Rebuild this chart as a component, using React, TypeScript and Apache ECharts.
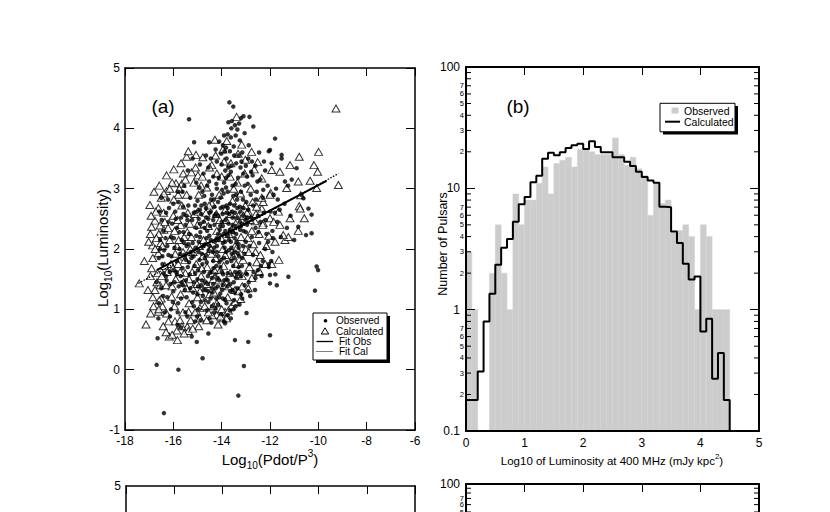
import React, { useEffect, useRef } from "react";
import * as echarts from "echarts";

const FONT = "'Liberation Sans', Arial, Helvetica, sans-serif";

// ---------- Panel (a) data: log10(Pdot/P^3) vs log10(Luminosity) ----------
const OBSERVED_POINTS: [number, number][] = [
  [-13.68, 4.43], [-13.52, 4.36], [-13.1, 4.2], [-13.2, 4.17], [-12.85, 4.19], [-13.45, 4.05], [-13.6, 4.0],
  [-13.35, 3.98], [-12.69, 4.03], [-13.9, 3.88], [-13.75, 3.9], [-13.62, 3.85], [-13.95, 3.72], [-14.1, 3.78],
  [-13.5, 3.7], [-13.3, 3.55], [-13.15, 3.6], [-12.9, 3.5], [-13.8, 3.5], [-14.2, 3.45], [-14.45, 3.5],
  [-14.0, 3.4], [-13.6, 3.38], [-13.4, 3.42], [-13.0, 3.38], [-12.6, 3.38], [-12.75, 3.45], [-14.65, 3.55],
  [-14.9, 3.4], [-15.2, 3.5], [-12.45, 3.6], [-12.2, 3.3], [-13.1, 3.25], [-12.95, 3.2], [-13.85, 3.3],
  [-14.35, 3.2], [-14.75, 3.25], [-15.05, 3.1], [-15.4, 3.3], [-15.55, 3.05], [-15.35, 4.15], [-15.14, 3.77],
  [-14.52, 3.77],
  [-15.8, 2.95], [-15.3, 2.85], [-15.0, 2.8], [-14.8, 2.95], [-14.6, 3.05], [-14.4, 2.9], [-14.2, 3.0],
  [-14.05, 2.85], [-13.9, 3.1], [-13.75, 2.95], [-13.55, 3.05], [-13.4, 2.9], [-13.2, 2.95], [-13.05, 3.05],
  [-12.8, 2.9], [-12.55, 2.95], [-12.3, 2.85], [-12.1, 3.05], [-11.85, 2.9], [-14.9, 2.65], [-14.7, 2.75],
  [-14.5, 2.6], [-14.3, 2.7], [-14.15, 2.55], [-13.95, 2.7], [-13.8, 2.6], [-13.65, 2.75], [-13.45, 2.6],
  [-13.25, 2.7], [-13.1, 2.55], [-12.9, 2.65], [-12.7, 2.72], [-12.5, 2.55], [-12.25, 2.6], [-15.6, 2.7],
  [-15.45, 2.55], [-15.15, 2.6], [-16.0, 2.75], [-16.3, 2.6], [-15.9, 2.5], [-16.5, 2.85], [-16.2, 2.45],
  [-16.4, 2.3], [-16.1, 2.2], [-15.85, 2.35], [-15.65, 2.15], [-15.5, 2.4], [-15.35, 2.25], [-15.2, 2.1],
  [-15.05, 2.35], [-14.9, 2.2], [-14.75, 2.45], [-14.6, 2.3], [-14.45, 2.15], [-14.3, 2.4], [-14.15, 2.25],
  [-14.0, 2.45], [-13.85, 2.3], [-13.7, 2.15], [-13.55, 2.4], [-13.4, 2.25], [-13.25, 2.45], [-13.1, 2.3],
  [-12.95, 2.4], [-12.75, 2.2], [-12.6, 2.35], [-12.4, 2.45], [-12.15, 2.25], [-11.9, 2.3], [-11.7, 2.45],
  [-14.95, 2.5], [-14.55, 2.5], [-14.2, 2.05], [-13.95, 2.1], [-13.6, 2.02], [-13.3, 2.08], [-13.0, 2.12],
  [-15.45, 2.05], [-15.75, 2.0], [-16.25, 2.05], [-16.55, 2.15], [-12.85, 2.05], [-12.45, 2.1],
  [-16.6, 1.85], [-16.45, 1.75], [-16.2, 1.9], [-16.0, 1.65], [-15.85, 1.8], [-15.7, 1.55], [-15.55, 1.9],
  [-15.4, 1.7], [-15.25, 1.85], [-15.1, 1.6], [-14.95, 1.95], [-14.8, 1.75], [-14.65, 1.9], [-14.5, 1.6],
  [-14.35, 1.8], [-14.2, 1.95], [-14.05, 1.7], [-13.9, 1.85], [-13.75, 1.6], [-13.6, 1.8], [-13.45, 1.95],
  [-13.3, 1.7], [-13.15, 1.85], [-13.0, 1.6], [-12.85, 1.75], [-12.7, 1.9], [-12.5, 1.65], [-12.3, 1.8],
  [-12.05, 1.7], [-11.9, 1.95], [-15.0, 1.5], [-14.4, 1.52], [-13.8, 1.5], [-13.2, 1.55], [-12.6, 1.52],
  [-16.3, 1.55], [-15.95, 1.45], [-14.7, 1.45], [-14.1, 1.48], [-13.5, 1.45],
  [-16.5, 1.35], [-16.25, 1.2], [-16.0, 1.3], [-15.8, 1.1], [-15.6, 1.4], [-15.45, 1.2], [-15.3, 1.35],
  [-15.15, 1.05], [-15.0, 1.25], [-14.85, 1.4], [-14.7, 1.15], [-14.55, 1.3], [-14.4, 1.05], [-14.25, 1.35],
  [-14.1, 1.2], [-13.95, 1.4], [-13.8, 1.1], [-13.65, 1.3], [-13.5, 1.15], [-13.35, 1.35], [-13.2, 1.25],
  [-13.05, 1.4], [-12.9, 1.3], [-16.1, 1.0], [-15.5, 0.95], [-14.95, 1.0], [-14.3, 0.95], [-13.75, 0.9],
  [-13.9, 0.8], [-14.5, 0.85], [-16.55, 2.0], [-16.4, 1.6], [-16.7, 1.45], [-16.6, 1.1], [-16.35, 0.95],
  [-12.0, 3.64], [-12.05, 3.62], [-11.79, 3.83], [-11.52, 3.56], [-11.52, 3.5], [-11.93, 3.42], [-10.9, 3.34],
  [-11.38, 3.12], [-11.25, 3.05], [-10.62, 2.84], [-10.7, 2.9], [-10.41, 2.67], [-10.28, 2.57], [-10.83, 2.37],
  [-10.51, 2.23], [-10.28, 2.26], [-11.0, 2.15], [-10.07, 1.71], [-10.01, 1.65], [-10.14, 1.31], [-11.24, 1.54],
  [-11.72, 1.4], [-12.0, 1.43], [-12.0, 1.57], [-11.95, 1.8], [-12.05, 1.75], [-11.6, 2.65], [-11.4, 2.75],
  [-11.15, 2.55], [-11.8, 2.6], [-11.55, 2.2], [-11.3, 2.35], [-12.2, 2.0], [-12.35, 1.55], [-11.75, 3.0],
  [-11.1, 3.15], [-12.4, 3.15], [-12.25, 3.45],
  [-13.52, 1.0], [-13.86, 0.77], [-12.9, 0.46], [-12.0, 0.57], [-13.45, 0.49], [-12.97, 0.94], [-14.55, 0.6],
  [-15.03, 0.46], [-15.24, 0.55], [-16.65, 0.52], [-16.69, 0.08], [-15.79, 0.0], [-14.79, 0.19], [-13.08, 0.06],
  [-13.31, -0.43], [-16.39, -0.72], [-16.62, 0.85], [-16.14, 0.88], [-15.82, 0.74], [-15.68, 0.7], [-14.87, 0.82],
  [-15.1, 0.8],
  [-15.18, 1.28], [-15.12, 1.72], [-15.08, 2.02], [-15.02, 2.62], [-14.98, 1.38], [-14.92, 1.82], [-14.88, 2.28],
  [-14.84, 2.72], [-14.78, 1.22], [-14.74, 1.62], [-14.68, 2.08], [-14.64, 2.52], [-14.58, 1.42], [-14.54, 1.98],
  [-14.48, 2.38], [-14.44, 2.82], [-14.38, 1.28], [-14.34, 1.68], [-14.28, 2.12], [-14.24, 2.58], [-14.18, 1.52],
  [-14.14, 1.88], [-14.08, 2.32], [-14.04, 2.68], [-13.98, 1.32], [-13.94, 1.58], [-13.88, 2.02], [-13.84, 2.48],
  [-13.78, 1.78], [-13.74, 2.22], [-13.68, 2.58], [-13.64, 1.42], [-13.58, 1.92], [-13.54, 2.28], [-13.48, 2.72],
  [-13.44, 1.62], [-13.38, 2.12], [-13.34, 2.52], [-13.28, 1.88], [-13.24, 2.32], [-15.32, 1.58], [-15.38, 2.08],
  [-15.42, 2.48], [-15.48, 1.82], [-15.52, 1.32], [-15.58, 2.28], [-15.62, 1.68], [-15.68, 2.52], [-15.72, 1.92],
  [-15.78, 1.38],
  [-14.95, 2.12], [-14.82, 1.92], [-14.71, 2.35], [-14.62, 1.78], [-14.51, 2.22], [-14.42, 1.62], [-14.31, 2.02],
  [-14.22, 1.72], [-14.12, 2.15], [-14.02, 1.82], [-13.92, 2.25], [-13.82, 1.95], [-13.72, 2.42], [-13.62, 2.12],
  [-13.52, 1.72], [-13.42, 2.38], [-13.32, 1.92], [-13.22, 2.62], [-13.12, 2.05], [-13.02, 2.48], [-14.86, 1.12],
  [-14.66, 1.32], [-14.46, 1.18], [-14.26, 1.02], [-14.06, 1.26], [-13.86, 1.16], [-13.66, 0.98], [-13.46, 1.28],
  [-13.26, 1.08], [-14.92, 3.02], [-14.72, 2.88], [-14.52, 3.12], [-14.32, 2.82], [-14.12, 3.18], [-13.92, 2.92],
  [-13.72, 3.22], [-13.52, 2.88], [-13.32, 3.18], [-13.12, 2.82], [-12.92, 3.08],
  [-13.72, 4.1], [-13.58, 4.12], [-13.42, 3.88], [-13.28, 4.08], [-13.82, 3.68], [-13.66, 3.62], [-13.25, 3.8],
  [-13.05, 3.92], [-12.88, 3.72], [-14.02, 3.58], [-14.25, 3.65], [-14.55, 3.35], [-13.22, 3.35], [-13.72, 3.35],
  [-16.48, 2.48], [-16.38, 1.98], [-16.28, 1.48], [-16.18, 2.68], [-16.08, 1.88], [-15.98, 2.18], [-15.88, 1.62],
  [-15.78, 2.78], [-15.68, 1.18], [-15.58, 2.58], [-15.48, 1.48], [-15.38, 2.72], [-16.42, 1.22], [-16.12, 1.42],
  [-15.92, 2.62], [-15.62, 2.95], [-16.22, 2.82], [-16.58, 2.62],
  [-12.98, 2.78], [-12.88, 1.45], [-12.78, 2.52], [-12.68, 1.62], [-12.58, 2.82], [-12.48, 2.28], [-12.38, 1.72],
  [-12.28, 2.98], [-12.18, 2.48], [-12.08, 2.12], [-11.98, 2.62], [-11.88, 2.18], [-11.78, 1.58], [-11.68, 2.82],
  [-12.72, 3.22], [-12.52, 3.12], [-12.82, 1.22], [-12.62, 1.32],
  [-15.42, 0.88], [-15.22, 1.12], [-15.02, 0.88], [-14.62, 0.98], [-14.42, 0.78], [-14.02, 0.92], [-13.62, 0.85],
  [-14.22, 1.18], [-13.42, 1.05], [-15.82, 0.95], [-16.02, 1.12],
  [-15.15, 1.45], [-15.05, 2.22], [-14.98, 1.65], [-14.9, 2.42], [-14.82, 1.48], [-14.76, 2.05], [-14.7, 1.85],
  [-14.63, 2.18], [-14.57, 1.55], [-14.5, 2.05], [-14.45, 2.62], [-14.4, 1.35], [-14.36, 1.95], [-14.3, 2.55],
  [-14.26, 1.58], [-14.2, 2.18], [-14.16, 1.38], [-14.1, 1.78], [-14.06, 2.38], [-14.0, 1.62], [-13.96, 2.58],
  [-13.9, 1.48], [-13.86, 2.12], [-13.8, 2.72], [-13.76, 1.38], [-13.7, 1.98], [-13.66, 2.32], [-13.6, 1.58],
  [-13.56, 2.62], [-13.5, 1.85], [-13.46, 2.18], [-13.4, 1.52], [-13.36, 2.82], [-13.3, 2.02], [-13.26, 1.62],
  [-13.2, 2.38], [-13.16, 1.72], [-13.1, 2.68], [-13.06, 1.92], [-13.0, 2.28],
  [-15.28, 1.95], [-15.22, 2.48], [-15.16, 1.88], [-15.1, 2.72], [-15.35, 1.78], [-15.55, 2.1], [-15.65, 1.45],
  [-15.75, 2.28], [-15.85, 1.58], [-15.95, 2.02], [-16.05, 2.42], [-16.15, 1.62], [-16.32, 2.18], [-16.45, 1.88],
  [-14.85, 2.58], [-14.65, 2.68], [-14.35, 2.48], [-14.15, 2.78], [-13.95, 2.38], [-13.75, 2.68], [-13.55, 2.52],
  [-13.35, 2.68], [-13.15, 2.42], [-12.95, 2.52],
  [-14.75, 1.32], [-14.55, 1.12], [-14.35, 1.42], [-14.15, 1.08], [-13.95, 1.18], [-13.75, 1.48], [-13.55, 1.32],
  [-13.35, 1.58], [-13.15, 1.18], [-12.95, 1.58],
  [-13.82, 3.02], [-13.62, 3.28], [-13.42, 3.08], [-13.82, 3.18], [-14.22, 3.08], [-13.48, 3.55], [-13.88, 3.62],
  [-13.18, 3.45], [-12.78, 3.28], [-13.98, 2.98],
];

const CALCULATED_POINTS: [number, number][] = [
  [-9.27, 4.33], [-9.99, 3.61], [-10.79, 3.53], [-10.18, 3.39], [-10.03, 3.28], [-9.17, 3.06], [-10.07, 3.01],
  [-10.83, 3.12], [-10.34, 3.13], [-10.73, 2.89], [-11.31, 3.01], [-11.97, 2.93], [-12.34, 3.17], [-11.59, 3.28],
  [-11.17, 3.39], [-11.93, 3.31], [-12.51, 3.44], [-12.76, 3.61], [-13.17, 3.73], [-13.38, 4.19], [-13.79, 3.79],
  [-14.28, 3.81], [-14.41, 3.39], [-15.45, 3.53], [-15.06, 3.56], [-15.59, 3.25], [-15.25, 3.27], [-14.98, 3.22],
  [-15.89, 3.09], [-15.65, 3.08], [-16.28, 2.96], [-16.39, 2.92], [-15.8, 2.9], [-16.97, 2.73], [-16.62, 2.68],
  [-16.76, 2.47], [-16.9, 2.37], [-16.55, 2.39], [-16.39, 2.32], [-16.86, 2.06], [-16.52, 2.1], [-16.62, 1.93],
  [-16.9, 1.68], [-16.35, 1.72], [-17.41, 1.43], [-16.55, 1.4], [-16.5, 1.18], [-16.76, 1.32], [-16.94, 0.93],
  [-17.13, 0.75], [-16.62, 0.96], [-16.28, 0.93], [-16.07, 1.21], [-16.17, 0.55], [-15.83, 0.49], [-15.93, 0.8],
  [-15.42, 0.71], [-15.38, 0.64], [-15.37, 0.96], [-15.03, 0.96], [-14.9, 1.02], [-13.86, 0.96], [-13.93, 0.85],
  [-14.21, 0.91], [-13.21, 1.17], [-13.45, 1.32], [-12.48, 1.62], [-12.44, 1.63], [-11.93, 1.75], [-11.63, 1.82],
  [-11.79, 2.12], [-11.38, 2.15], [-11.24, 2.2], [-11.45, 2.23], [-12.0, 2.51], [-11.17, 2.51], [-10.83, 2.3],
  [-10.58, 2.51], [-10.79, 2.71], [-10.75, 2.67], [-11.59, 2.4], [-12.28, 2.43], [-12.62, 2.46], [-12.34, 2.67],
  [-12.9, 2.62], [-12.72, 2.78], [-12.28, 2.78], [-12.0, 2.9], [-12.34, 2.85],
  [-16.0, 2.55], [-15.7, 2.4], [-15.85, 2.05], [-15.6, 1.95], [-15.4, 2.6], [-15.3, 2.0], [-15.5, 1.6],
  [-15.2, 1.35], [-15.7, 1.25], [-15.9, 1.5], [-16.1, 1.75], [-16.3, 1.4], [-16.45, 1.05], [-16.2, 0.8],
  [-15.95, 1.05], [-15.6, 0.95], [-15.35, 1.1], [-15.1, 0.95], [-14.9, 0.85], [-14.7, 1.05], [-14.5, 1.25],
  [-14.2, 1.1], [-14.0, 1.0], [-13.75, 1.2], [-13.6, 1.05], [-13.9, 1.4], [-14.35, 1.5], [-14.6, 1.7],
  [-14.85, 1.55], [-15.05, 1.75], [-15.25, 2.2], [-15.0, 2.4], [-14.75, 2.15], [-14.45, 2.0], [-14.2, 2.3],
  [-13.95, 2.0], [-13.7, 2.25], [-13.45, 2.05], [-13.2, 2.2], [-13.0, 2.0], [-12.75, 2.3], [-12.95, 2.6],
  [-13.3, 2.55], [-13.55, 2.8], [-13.85, 2.65], [-14.1, 2.9], [-14.4, 2.75], [-14.65, 2.6], [-14.95, 2.9],
  [-15.15, 3.1], [-15.45, 2.9], [-15.75, 3.0], [-16.05, 3.1], [-14.8, 3.2], [-14.5, 3.35], [-14.2, 3.25],
  [-13.9, 3.45], [-13.65, 3.2], [-13.35, 3.1], [-13.05, 3.25], [-12.8, 3.0], [-12.55, 2.7], [-12.3, 2.4],
  [-12.6, 1.95], [-12.85, 1.7], [-13.15, 1.55], [-13.4, 1.75], [-13.65, 1.6], [-14.05, 1.65], [-14.25, 1.85],
  [-12.4, 1.9], [-12.2, 1.75], [-12.9, 1.35], [-13.3, 1.3], [-16.6, 2.25], [-16.75, 2.0], [-16.4, 2.6],
  [-16.65, 1.6], [-16.5, 2.85], [-16.8, 2.95], [-15.95, 2.3], [-15.55, 2.2], [-15.8, 1.75], [-15.35, 1.5],
  [-15.0, 1.2], [-14.4, 0.9], [-14.9, 1.3], [-13.8, 0.85], [-14.15, 0.75], [-15.55, 0.6], [-15.85, 0.65],
  [-16.85, 1.2], [-16.95, 1.55], [-17.2, 1.8],
  [-16.95, 2.25], [-16.85, 1.85], [-16.72, 2.62], [-16.68, 1.45], [-16.58, 1.15], [-16.45, 2.05], [-16.35, 2.45],
  [-16.25, 1.62], [-16.15, 2.15], [-16.05, 1.38], [-15.98, 2.82], [-15.92, 1.92], [-15.82, 2.48], [-15.72, 1.62],
  [-15.65, 2.72], [-15.52, 1.82], [-15.45, 1.35], [-15.32, 2.42], [-15.22, 1.62], [-15.12, 2.58], [-15.02, 1.42],
  [-14.92, 2.05], [-14.82, 1.68], [-14.72, 2.42], [-14.62, 1.42], [-14.52, 2.72], [-14.42, 1.92], [-14.32, 1.28],
  [-14.22, 2.58], [-14.12, 1.48], [-14.02, 2.18], [-13.92, 1.72], [-13.82, 2.48], [-13.72, 1.38], [-13.62, 2.58],
  [-13.52, 1.88], [-13.42, 2.42], [-13.32, 1.58], [-13.22, 2.92], [-13.12, 1.82], [-13.02, 2.72], [-12.92, 2.18],
  [-12.82, 2.48], [-12.68, 2.08], [-12.58, 2.58], [-12.45, 2.25], [-12.15, 2.05], [-12.05, 2.22], [-11.85, 2.45],
  [-11.65, 2.62], [-16.58, 3.05], [-16.28, 3.22], [-15.98, 3.32], [-15.68, 3.42], [-15.38, 3.62], [-15.08, 3.35],
  [-14.78, 3.52], [-14.62, 3.02], [-14.25, 3.55], [-13.95, 3.65], [-13.62, 3.42], [-13.32, 3.58], [-13.02, 3.48],
  [-12.65, 3.32], [-16.82, 1.05], [-16.42, 0.72], [-16.05, 0.58], [-15.72, 0.82], [-15.28, 0.82], [-14.95, 0.72],
  [-14.62, 0.82], [-14.35, 1.05], [-14.05, 0.88], [-13.72, 0.98], [-13.45, 1.12], [-13.15, 1.38], [-12.75, 1.52],
  [-12.55, 1.78], [-17.02, 2.12], [-17.05, 1.32], [-16.92, 2.55],
  [-16.7, 2.18], [-16.48, 1.55], [-16.22, 2.35], [-16.02, 1.68], [-15.78, 2.15], [-15.58, 1.45], [-15.42, 2.28],
  [-15.18, 1.95], [-14.98, 2.62], [-14.78, 1.88], [-14.55, 2.38], [-14.3, 1.65], [-14.08, 2.48], [-13.85, 1.9],
  [-13.6, 2.32], [-13.38, 2.02], [-13.1, 2.55], [-12.88, 1.95], [-16.6, 1.0], [-16.3, 0.62], [-15.65, 0.72],
  [-15.2, 0.68], [-14.55, 0.95], [-16.15, 3.0], [-15.5, 3.15], [-14.85, 3.05], [-14.0, 3.2], [-13.5, 3.0],
];

const FIT_OBS: [number, number][] = [[-16.69, 1.65], [-9.66, 3.13]];
const FIT_CAL: [number, number][] = [[-17.45, 1.43], [-9.17, 3.25]];

// ---------- Panel (b) data: histogram of log10 luminosity, bins of 0.1 from 0 to 4.5 ----------
const BIN_WIDTH = 0.1;
const OBSERVED_COUNTS = [
  3, 1, 0, 0, 2, 5, 2, 1, 9, 5,
  8, 8, 11, 15, 9, 16, 17, 18, 15, 21,
  21, 20, 19, 19, 19, 26, 19, 15.5, 18, 14.5,
  12.8, 6, 11, 7.5, 8, 4.3, 4.5, 5, 4, 1,
  5, 4, 1, 1, 1,
];
const CALCULATED_COUNTS = [
  0.18, 0.18, 0.31, 0.8, 1.35, 2.35, 3.24, 3.82, 5.3, 7.4,
  8.5, 11.2, 12.7, 17.5, 19.6, 18.7, 19.8, 21.5, 22.6, 23.3,
  21.1, 24.4, 21.9, 19.8, 19.8, 18.0, 18.0, 16.6, 15.3, 13.7,
  12.4, 11.6, 11.1, 7.05, 7.0, 4.4, 3.55, 2.39, 1.77, 1.88,
  0.66, 0.84, 0.27, 0.44, 0.18,
];
const LOG_MINOR_VALUES = [
  0.2, 0.3, 0.4, 0.5, 0.6, 0.7, 0.8, 0.9,
  2, 3, 4, 5, 6, 7, 8, 9,
  20, 30, 40, 50, 60, 70, 80, 90,
];
const LOG_MINOR_LABELS = ["2", "3", "4", "5", "6", "7", "", ""];

function tickLine(w: number) {
  return { color: "#000", width: w };
}
function valueXAxis(gridIndex: number, position: string, showLabel: boolean, showAxis = true) {
  return {
    type: "value", gridIndex, position, min: -18, max: -6, interval: 2, show: showAxis,
    axisLine: { show: true, onZero: false, lineStyle: tickLine(1.5) },
    axisTick: { show: true, inside: true, length: 8, lineStyle: tickLine(1) },
    axisLabel: { show: showLabel, color: "#000", fontFamily: FONT, fontSize: 12, margin: 5 },
    splitLine: { show: false }, z: 10,
  };
}
function valueYAxis(gridIndex: number, position: string, showLabel: boolean, min: number, max: number, custom?: number[]) {
  const label: any = { show: showLabel, color: "#000", fontFamily: FONT, fontSize: 12, margin: 5 };
  const tick: any = { show: !custom, inside: true, length: 9, lineStyle: tickLine(1) };
  if (custom) label.customValues = custom;
  return {
    type: "value", gridIndex, position, min, max, interval: custom ? undefined : 1,
    axisLine: { show: true, onZero: false, lineStyle: tickLine(1.5) },
    axisTick: tick, axisLabel: label,
    splitLine: { show: false }, z: 10,
  };
}
function histXAxis(gridIndex: number, position: string, showLabel: boolean, showTick: boolean, showAxis = true) {
  return {
    type: "value", gridIndex, position, min: 0, max: 5, interval: 1, show: showAxis,
    axisLine: { show: true, onZero: false, lineStyle: tickLine(2) },
    axisTick: { show: showTick, inside: true, length: 8, lineStyle: tickLine(1) },
    axisLabel: { show: showLabel, color: "#000", fontFamily: FONT, fontSize: 12, margin: 6 },
    splitLine: { show: false }, z: 10,
  };
}
function logYAxis(gridIndex: number, position: string, showLabel: boolean, min: number, custom?: number[]) {
  const label: any = {
    show: showLabel, color: "#000", fontFamily: FONT, fontSize: 12, margin: 6,
    formatter: (v: number) => (v < 0.5 ? "0.1" : String(Math.round(v))),
  };
  const tick: any = { show: true, inside: true, length: 9, lineStyle: tickLine(1) };
  if (custom) {
    label.customValues = custom;
    tick.customValues = custom;
  }
  return {
    type: "log", logBase: 10, gridIndex, position, min, max: 100, splitNumber: 3,
    axisLine: { show: true, onZero: false, lineStyle: tickLine(2) },
    axisTick: tick, axisLabel: label,
    splitLine: { show: false }, z: 10,
  };
}

function minorTickSeries(xi: number, yi: number, minValue: number) {
  const data = LOG_MINOR_VALUES.map((v, i) => [0, v, i % 8]).filter((d) => d[1] >= minValue);
  return {
    type: "custom", xAxisIndex: xi, yAxisIndex: yi, clip: false, silent: true, z: 11,
    encode: { x: 0, y: 1 },
    data,
    renderItem: (params: any, api: any) => {
      const cs = params.coordSys;
      const y = api.coord([0, api.value(1)])[1];
      const label = LOG_MINOR_LABELS[api.value(2)];
      const children: any[] = [
        { type: "line", shape: { x1: cs.x, y1: y, x2: cs.x + 5, y2: y }, style: { stroke: "#000", lineWidth: 1 } },
        { type: "line", shape: { x1: cs.x + cs.width - 5, y1: y, x2: cs.x + cs.width, y2: y }, style: { stroke: "#000", lineWidth: 1 } },
      ];
      if (label) {
        children.push({
          type: "text",
          style: { text: label, x: cs.x - 2, y, align: "right", verticalAlign: "middle", fontSize: 7.5, fontFamily: FONT, fill: "#000" },
        });
      }
      return { type: "group", children };
    },
  };
}

const subRich = {
  m: { fontSize: 15, fontFamily: FONT, fill: "#000", lineHeight: 22 },
  s: { fontSize: 10, fontFamily: FONT, fill: "#000", lineHeight: 10, verticalAlign: "bottom" },
  p: { fontSize: 10, fontFamily: FONT, fill: "#000", lineHeight: 14, verticalAlign: "top" },
};

export default function App() {
  const ref = useRef<HTMLDivElement>(null);
  useEffect(() => {
    if (!ref.current) return;
    const chart = echarts.init(ref.current, undefined, { renderer: "svg" });
    const histBars = OBSERVED_COUNTS
      .map((c, i) => [i * BIN_WIDTH, (i + 1) * BIN_WIDTH, c])
      .filter((d) => d[2] > 0);
    const stepData: [number, number][] = CALCULATED_COUNTS.map((c, i) => [i * BIN_WIDTH, c] as [number, number]);
    stepData.push([CALCULATED_COUNTS.length * BIN_WIDTH, 0.1]);

    const Z = 100;
    const option: any = {
      animation: false,
      backgroundColor: "#fff",
      grid: [
        { left: 125, top: 68, width: 290, height: 362 },
        { left: 466, top: 67, width: 293, height: 364 },
        { left: 126, top: 486, width: 289, height: 30 },
        { left: 466, top: 484, width: 293, height: 36.5 },
      ],
      xAxis: [
        valueXAxis(0, "bottom", true),
        valueXAxis(0, "top", false),
        histXAxis(1, "bottom", true, false),
        histXAxis(1, "top", false, true),
        valueXAxis(2, "bottom", false, false),
        valueXAxis(2, "top", false),
        histXAxis(3, "bottom", false, false, false),
        histXAxis(3, "top", false, true),
      ],
      yAxis: [
        valueYAxis(0, "left", true, -1, 5),
        valueYAxis(0, "right", false, -1, 5),
        logYAxis(1, "left", true, 0.1),
        logYAxis(1, "right", false, 0.1),
        valueYAxis(2, "left", true, 4.5, 5, [5]),
        valueYAxis(2, "right", false, 4.5, 5, [5]),
        logYAxis(3, "left", true, 50, [100]),
        logYAxis(3, "right", false, 50, [100]),
      ],
      series: [
        {
          type: "scatter", xAxisIndex: 0, yAxisIndex: 0, data: CALCULATED_POINTS, symbol: "triangle",
          symbolSize: [8, 7], itemStyle: { color: "#fff", borderColor: "#000", borderWidth: 1 }, z: 2,
        },
        {
          type: "scatter", xAxisIndex: 0, yAxisIndex: 0, data: OBSERVED_POINTS, symbol: "circle",
          symbolSize: 4.5, itemStyle: { color: "#000" }, z: 3,
        },
        {
          type: "line", xAxisIndex: 0, yAxisIndex: 0, data: FIT_CAL, showSymbol: false, symbol: "none",
          lineStyle: { color: "#000", width: 1.3, type: [1.5, 1.5] }, z: 4,
        },
        {
          type: "line", xAxisIndex: 0, yAxisIndex: 0, data: FIT_OBS, showSymbol: false, symbol: "none",
          lineStyle: { color: "#000", width: 2 }, z: 5,
        },
        {
          type: "custom", xAxisIndex: 2, yAxisIndex: 2, data: histBars, encode: { x: [0, 1], y: 2 }, z: 2,
          renderItem: (params: any, api: any) => {
            const p1 = api.coord([api.value(0), api.value(2)]);
            const p2 = api.coord([api.value(1), 0.1]);
            return {
              type: "rect",
              shape: { x: p1[0], y: p1[1], width: p2[0] - p1[0], height: p2[1] - p1[1] },
              style: { fill: "#cccccc", stroke: "#d3d3d3", lineWidth: 0.5 },
            };
          },
        },
        {
          type: "line", xAxisIndex: 2, yAxisIndex: 2, data: stepData, step: "end", showSymbol: false,
          symbol: "none", lineStyle: { color: "#000", width: 2 }, z: 5,
        },
        minorTickSeries(2, 2, 0.1),
        minorTickSeries(6, 6, 50),
      ],
      graphic: [
        // panel labels
        { type: "text", z: Z, style: { text: "(a)", x: 163, y: 106, align: "center", verticalAlign: "middle", fontSize: 19, fontFamily: FONT, fill: "#000" } },
        { type: "text", z: Z, style: { text: "(b)", x: 518, y: 106, align: "center", verticalAlign: "middle", fontSize: 19, fontFamily: FONT, fill: "#000" } },
        // axis titles
        {
          type: "text", z: Z,
          style: { text: "{m|Log}{s|10}{m|(Pdot/P}{p|3}{m|)}", x: 270, y: 459, align: "center", verticalAlign: "middle", rich: subRich },
        },
        {
          type: "text", z: Z, x: 102, y: 248, rotation: Math.PI / 2,
          style: { text: "{m|Log}{s|10}{m|(Luminosity)}", x: 0, y: 0, align: "center", verticalAlign: "middle", rich: subRich },
        },
        {
          type: "text", z: Z, x: 443, y: 244, rotation: Math.PI / 2,
          style: { text: "Number of Pulsars", x: 0, y: 0, align: "center", verticalAlign: "middle", fontSize: 12.5, fontFamily: FONT, fill: "#000" },
        },
        {
          type: "text", z: Z,
          style: {
            text: "{m|Log10 of Luminosity at 400 MHz (mJy kpc}{p|2}{m|)}", x: 612, y: 461, align: "center", verticalAlign: "middle",
            rich: {
              m: { fontSize: 11.5, fontFamily: FONT, fill: "#000", lineHeight: 18 },
              p: { fontSize: 8, fontFamily: FONT, fill: "#000", lineHeight: 11, verticalAlign: "top" },
            },
          },
        },
        // legend (a)
        { type: "rect", z: Z, shape: { x: 316, y: 316, width: 74, height: 47 }, style: { fill: "#000" } },
        { type: "rect", z: Z, shape: { x: 313, y: 313, width: 74, height: 47 }, style: { fill: "#fff", stroke: "#000", lineWidth: 1 } },
        { type: "circle", z: Z, shape: { cx: 325.5, cy: 320.7, r: 1.8 }, style: { fill: "#000" } },
        { type: "polygon", z: Z, shape: { points: [[325, 327.8], [321.3, 334], [328.7, 334]] }, style: { fill: "#fff", stroke: "#000", lineWidth: 1 } },
        { type: "line", z: Z, shape: { x1: 316.5, y1: 341.5, x2: 333, y2: 341.5 }, style: { stroke: "#000", lineWidth: 1.3 } },
        { type: "line", z: Z, shape: { x1: 316.5, y1: 351.5, x2: 333, y2: 351.5 }, style: { stroke: "#000", lineWidth: 1, lineDash: [1, 1] } },
        { type: "text", z: Z, style: { text: "Observed", x: 336, y: 320.7, verticalAlign: "middle", fontSize: 10, fontFamily: FONT, fill: "#000" } },
        { type: "text", z: Z, style: { text: "Calculated", x: 336, y: 331, verticalAlign: "middle", fontSize: 10, fontFamily: FONT, fill: "#000" } },
        { type: "text", z: Z, style: { text: "Fit Obs", x: 339, y: 341.5, verticalAlign: "middle", fontSize: 10, fontFamily: FONT, fill: "#000" } },
        { type: "text", z: Z, style: { text: "Fit Cal", x: 339, y: 351.5, verticalAlign: "middle", fontSize: 10, fontFamily: FONT, fill: "#000" } },
        // legend (b)
        { type: "rect", z: Z, shape: { x: 663, y: 106, width: 75, height: 28.5 }, style: { fill: "#000" } },
        { type: "rect", z: Z, shape: { x: 660, y: 103.3, width: 75, height: 28.5 }, style: { fill: "#fff", stroke: "#000", lineWidth: 1 } },
        { type: "rect", z: Z, shape: { x: 671.5, y: 107.5, width: 7, height: 6 }, style: { fill: "#cccccc" } },
        { type: "line", z: Z, shape: { x1: 665, y1: 121.7, x2: 680, y2: 121.7 }, style: { stroke: "#000", lineWidth: 2 } },
        { type: "text", z: Z, style: { text: "Observed", x: 684, y: 110.5, verticalAlign: "middle", fontSize: 10.5, fontFamily: FONT, fill: "#000" } },
        { type: "text", z: Z, style: { text: "Calculated", x: 684, y: 121.7, verticalAlign: "middle", fontSize: 10.5, fontFamily: FONT, fill: "#000" } },
      ],
    };
    chart.setOption(option);
    return () => chart.dispose();
  }, []);

  return (
    <div style={{ position: "fixed", left: 0, top: 0, width: 830, height: 512, overflow: "hidden", background: "#fff" }}>
      <div ref={ref} style={{ width: 830, height: 512 }} />
    </div>
  );
}
